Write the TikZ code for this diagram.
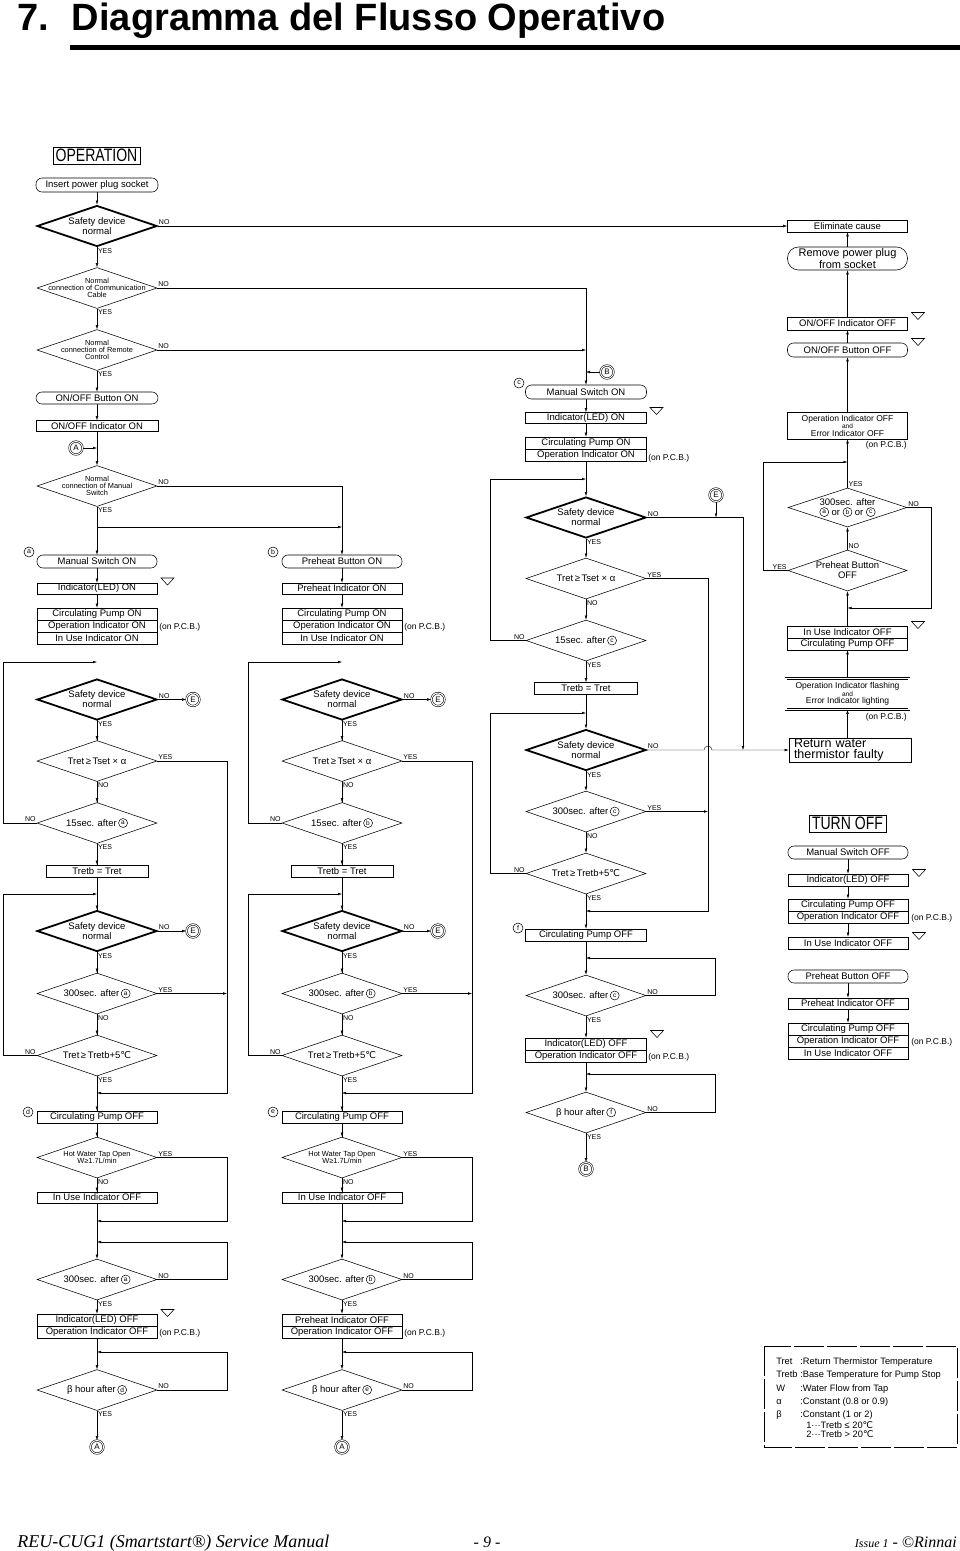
\documentclass[tikz,border=0pt]{standalone}
\usepackage{fontspec}
\usepackage{graphicx}
\setmainfont{Liberation Sans}
\newfontfamily\footserif{Liberation Serif}
\newfontfamily\symsans{DejaVu Sans}
\usetikzlibrary{arrows.meta,shapes.geometric,backgrounds}

\newcommand\boxfont{\fontsize{9.5}{10}\selectfont}
\newcommand\smallfont{\fontsize{7.4}{7}\selectfont}
\newcommand\ynfont{\fontsize{7}{8}\selectfont}
\newcommand\pcbfont{\fontsize{8.5}{9}\selectfont}
\newcommand\legfont{\fontsize{9.3}{10}\selectfont}
\newcommand\degc{{\symsans ℃}}
\newcommand\circled[1]{\tikz[baseline=-3pt]\node[draw,circle,inner sep=0pt,minimum size=9pt,line width=0.5pt,font=\fontsize{6.5}{6.5}\selectfont]{#1};}

\tikzset{
  box/.style={draw,fill=white,rectangle,minimum width=120,minimum height=12,inner sep=0,font=\boxfont},
  termbox/.style={box,rounded corners=6},
  dec/.style={draw,fill=white,diamond,minimum width=120,minimum height=41,inner sep=0},
  thickdec/.style={dec,line width=1.8},
  dtxt/.style={align=center,font=\boxfont,inner sep=0},
  stxt/.style={align=center,font=\smallfont,inner sep=0},
  yn/.style={font=\ynfont,inner sep=0.8},
  ys/.style={label={[yn,anchor=north west]south:YES}},
  ns/.style={label={[yn,anchor=north west]south:NO}},
  ye/.style={label={[yn,anchor=south west]east:YES}},
  ne/.style={label={[yn,anchor=south west]east:NO}},
  nw/.style={label={[yn,anchor=south east]west:NO}},
  yw/.style={label={[yn,anchor=south east]west:YES}},
  yt/.style={label={[yn,anchor=south west]north:YES}},
  nt/.style={label={[yn,anchor=south west]north:NO}},
  safety/.style={thickdec,ys,ne,label={[dtxt]center:{Safety device\\normal}}},
  flow/.style={-{Latex[length=4pt,width=2.6pt]}},
  conn/.style={draw,fill=white,circle,double,double distance=1pt,minimum size=13,inner sep=0,font=\fontsize{8}{8}\selectfont},
  letter/.style={draw,fill=white,circle,minimum size=10,inner sep=0,font=\fontsize{7}{7}\selectfont},
  pcb/.style={anchor=west,inner sep=0,font=\pcbfont},
  bigbox/.style={draw,inner sep=0,minimum height=17,font=\fontsize{18}{18}\selectfont},
  warn/.pic={\draw (-6.5,-3.5) -- (6.5,-3.5) -- (0,3.5) -- cycle;}
}

\begin{document}
\begin{tikzpicture}[x=1pt,y=-1pt,line width=0.55pt]
\useasboundingbox (0,0) rectangle (960,1551);

% heading
\node[anchor=base west,inner sep=0,font=\fontsize{38}{38}\selectfont\bfseries] (title) at (17,30.5) {7.\hspace{23pt}Diagramma del Flusso Operativo};
\fill (70,45) rectangle (960,50);

% OPERATION
\node[bigbox,minimum width=87] (oper) at (96.5,155.5) {\scalebox{0.78}[1]{OPERATION}};
\node[termbox,minimum width=122,minimum height=14] (plug) at (97,185) {Insert power plug socket};
\node[safety] (safe0) at (97,226) {};
\node[dec,ys,ne,label={[stxt]center:{Normal\\connection of Communication\\Cable}}] (comm) at (97,288) {};
\node[dec,ys,ne,label={[stxt]center:{Normal\\connection of Remote\\Control}}] (remo) at (97,350) {};
\node[termbox,minimum width=122] (onbtn) at (97,398) {ON/OFF Button ON};
\node[box,minimum width=122,minimum height=11] (onind) at (97,426) {ON/OFF Indicator ON};
\node[conn] (conA0) at (76,448) {A};
\node[dec,ys,ne,label={[stxt]center:{Normal\\connection of Manual\\Switch}}] (mswc) at (97,486) {};
\coordinate (split) at (97,527);

% a: manual switch
\node[letter] (la) at (29,552) {a};
\node[termbox,minimum height=13] (msa) at (97,561.5) {Manual Switch ON};
\pic at (167.5,581.5) {warn};
\node[box,minimum height=11] (leda) at (97,588.5) {Indicator(LED) ON};
\node[box] (pma) at (97,614) {Circulating Pump ON};
\node[box] (opa) at (97,626) {Operation Indicator ON};
\node[box] (iua) at (97,638) {In Use Indicator ON};
\node[pcb] (pcba) at (159,627) {(on P.C.B.)};

% b: preheat button
\node[letter] (lb) at (273,552) {b};
\node[termbox,minimum height=13] (phb) at (342,561.5) {Preheat Button ON};
\node[box,minimum height=11] (phib) at (342,588.5) {Preheat Indicator ON};
\node[box] (pmb) at (342,614) {Circulating Pump ON};
\node[box] (opb) at (342,626) {Operation Indicator ON};
\node[box] (iub) at (342,638) {In Use Indicator ON};
\node[pcb] (pcbb) at (404,627) {(on P.C.B.)};

\begin{scope}[on background layer]
\draw[flow] (plug.south) -- (safe0.north);
\draw[flow] (safe0.south) -- (comm.north);
\draw[flow] (comm.south) -- (remo.north);
\draw[flow] (remo.south) -- (onbtn.north);
\draw[flow] (onbtn.south) -- (onind.north);
\draw[flow] (onind.south) -- (mswc.north);
\draw[flow] (conA0.east) -- (conA0 -| mswc.north);
\draw[flow] (mswc.south) -- (msa.north);
\draw[flow] (split) -- (split -| phb.north);
\draw[flow] (mswc.east) -| (phb.north);
\draw[flow] (msa.south) -- (leda.north);
\draw[flow] (leda.south) -- (pma.north);
\draw[flow] (phb.south) -- (phib.north);
\draw[flow] (phib.south) -- (pmb.north);
\end{scope}

% columns a and b
\foreach \dx/\k/\m/\ledtxt in {0/a/d/Indicator(LED) OFF,245/b/e/Preheat Indicator OFF}{
  \coordinate (in1\k) at (3+\dx,662);
  \node[safety] (sf1\k) at (97+\dx,699.5) {};
  \node[conn] (e1\k) at (193+\dx,699.5) {E};
  \node[dec,ns,ye,label={[dtxt]center:{Tret\,≥\,Tset × α}}] (ts\k) at (97+\dx,761) {};
  \node[dec,ys,nw,label={[dtxt]center:{15sec. after\,\circled{\k}}}] (fs\k) at (97+\dx,823) {};
  \node[box,minimum width=102] (tb\k) at (97+\dx,871) {Tretb = Tret};
  \coordinate (in2\k) at (3+\dx,894);
  \node[safety] (sf2\k) at (97+\dx,931) {};
  \node[conn] (e2\k) at (193+\dx,931) {E};
  \node[dec,ns,ye,label={[dtxt]center:{300sec. after\,\circled{\k}}}] (tt\k) at (97+\dx,993.5) {};
  \node[dec,ys,nw,label={[dtxt]center:{Tret\,≥\,Tretb+5\degc}}] (tr\k) at (97+\dx,1055.5) {};
  \coordinate (j1\k) at (227+\dx,1093);
  \node[letter] (l\m) at (28+\dx,1112) {\m};
  \node[box] (cp\k) at (97+\dx,1117) {Circulating Pump OFF};
  \node[dec,ns,ye,label={[stxt]center:{Hot Water Tap Open\\W≥1.7L/min}}] (hw\k) at (97+\dx,1157.5) {};
  \node[box,minimum height=11] (iu\k) at (97+\dx,1197.5) {In Use Indicator OFF};
  \coordinate (j2\k) at (227+\dx,1221);
  \coordinate (in3\k) at (227+\dx,1242);
  \node[dec,ys,ne,label={[dtxt]center:{300sec. after\,\circled{\k}}}] (to\k) at (97+\dx,1279.5) {};
  \node[box] (io\k) at (97+\dx,1320) {\ledtxt};
  \node[box] (oo\k) at (97+\dx,1332) {Operation Indicator OFF};
  \node[pcb] (pc\k) at (159+\dx,1333) {(on P.C.B.)};
  \coordinate (in4\k) at (227+\dx,1352);
  \node[dec,ys,ne,label={[dtxt]center:{β hour after\,\circled{\m}}}] (bh\k) at (97+\dx,1390) {};
  \node[conn] (a\k) at (97+\dx,1447) {A};
  \begin{scope}[on background layer]
  \draw[flow] (fs\k.west) -| (in1\k) -- (in1\k -| sf1\k.north);
  \draw[flow] (sf1\k.east) -- (e1\k.west);
  \draw[flow] (sf1\k.south) -- (ts\k.north);
  \draw[flow] (ts\k.south) -- (fs\k.north);
  \draw[flow] (fs\k.south) -- (tb\k.north);
  \draw[flow] (tb\k.south) -- (sf2\k.north);
  \draw[flow] (tr\k.west) -| (in2\k) -- (in2\k -| sf2\k.north);
  \draw[flow] (sf2\k.east) -- (e2\k.west);
  \draw[flow] (sf2\k.south) -- (tt\k.north);
  \draw[flow] (tt\k.south) -- (tr\k.north);
  \draw[flow] (ts\k.east) -| (j1\k) -- (j1\k -| cp\k.north);
  \draw[flow] (tt\k.east) -- (tt\k.east -| j1\k);
  \draw[flow] (tr\k.south) -- (cp\k.north);
  \draw[flow] (cp\k.south) -- (hw\k.north);
  \draw[flow] (hw\k.south) -- (iu\k.north);
  \draw[flow] (hw\k.east) -| (j2\k) -- (j2\k -| to\k.north);
  \draw[flow] (iu\k.south) -- (to\k.north);
  \draw[flow] (to\k.east) -| (in3\k) -- (in3\k -| to\k.north);
  \draw[flow] (to\k.south) -- (io\k.north);
  \draw[flow] (oo\k.south) -- (bh\k.north);
  \draw[flow] (bh\k.east) -| (in4\k) -- (in4\k -| bh\k.north);
  \draw[flow] (bh\k.south) -- (a\k.north);
  \end{scope}
}
\pic at (167.5,1313) {warn};
\begin{scope}[on background layer]
\draw[flow] (iua.south) -- (sf1a.north);
\draw[flow] (iub.south) -- (sf1b.north);
\end{scope}

% c: manual switch (remote)
\node[letter] (lc) at (519,383) {c};
\node[conn] (conB0) at (607,372) {B};
\node[termbox,minimum width=121,minimum height=14] (msc) at (586,392) {Manual Switch ON};
\pic at (656.5,411) {warn};
\node[box,minimum width=121,minimum height=11] (ledc) at (586,418) {Indicator(LED) ON};
\node[box,minimum width=121] (pmc) at (586,443) {Circulating Pump ON};
\node[box,minimum width=121] (opc) at (586,455) {Operation Indicator ON};
\node[pcb] (pcbc) at (648,458) {(on P.C.B.)};
\coordinate (inc1) at (490,479);
\node[safety] (sfc1) at (586,517.5) {};
\node[conn] (ec) at (716,495) {E};
\node[dec,ns,ye,label={[dtxt]center:{Tret\,≥\,Tset × α}}] (tsc) at (586,578.5) {};
\node[dec,ys,nw,label={[dtxt]center:{15sec. after\,\circled{c}}}] (fsc) at (586,640.5) {};
\node[box,minimum width=103] (tbc) at (586,688.5) {Tretb = Tret};
\coordinate (inc2) at (490,713);
\node[safety] (sfc2) at (586,750) {};
\node[dec,ns,ye,label={[dtxt]center:{300sec. after\,\circled{c}}}] (ttc) at (586,811.5) {};
\node[dec,ys,nw,label={[dtxt]center:{Tret\,≥\,Tretb+5\degc}}] (trc) at (586,873.5) {};
\coordinate (jc) at (708,911);
\node[letter] (lf) at (518,928) {f};
\node[box,minimum width=121] (cpc) at (586,935) {Circulating Pump OFF};
\coordinate (inc3) at (715,958);
\node[dec,ys,ne,label={[dtxt]center:{300sec. after\,\circled{c}}}] (toc) at (586,995.5) {};
\pic at (657,1034) {warn};
\node[box,minimum width=121] (ioc) at (586,1044) {Indicator(LED) OFF};
\node[box,minimum width=121] (ooc) at (586,1056) {Operation Indicator OFF};
\node[pcb] (pcbc2) at (648,1057) {(on P.C.B.)};
\coordinate (inc4) at (715,1074);
\node[dec,ys,ne,label={[dtxt]center:{β hour after\,\circled{f}}}] (bhc) at (586,1112.5) {};
\node[conn] (conB1) at (586,1169) {B};

\begin{scope}[on background layer]
\draw[flow] (comm.east) -| (msc.north);
\draw[flow] (remo.east) -- (remo.east -| msc.north);
\draw[flow] (conB0.west) -- (conB0 -| msc.north);
\draw[flow] (msc.south) -- (ledc.north);
\draw[flow] (ledc.south) -- (pmc.north);
\draw[flow] (opc.south) -- (sfc1.north);
\draw[flow] (fsc.west) -| (inc1) -- (inc1 -| sfc1.north);
\draw[flow] (sfc1.south) -- (tsc.north);
\draw[flow] (tsc.south) -- (fsc.north);
\draw[flow] (fsc.south) -- (tbc.north);
\draw[flow] (tbc.south) -- (sfc2.north);
\draw[flow] (trc.west) -| (inc2) -- (inc2 -| sfc2.north);
\draw[flow] (sfc2.south) -- (ttc.north);
\draw[flow] (ttc.south) -- (trc.north);
\draw[flow] (tsc.east) -| (jc) -- (jc -| cpc.north);
\draw[flow] (ttc.east) -- (ttc.east -| jc);
\draw[flow] (trc.south) -- (cpc.north);
\draw[flow] (cpc.south) -- (toc.north);
\draw[flow] (toc.east) -| (inc3) -- (inc3 -| toc.north);
\draw[flow] (toc.south) -- (ioc.north);
\draw[flow] (ooc.south) -- (bhc.north);
\draw[flow] (bhc.east) -| (inc4) -- (inc4 -| bhc.north);
\draw[flow] (bhc.south) -- (conB1.north);
\end{scope}

% error column
\node[box,minimum width=120] (elim) at (847.5,226) {Eliminate cause};
\node[termbox,minimum width=120,minimum height=23,rounded corners=11,align=center,font=\fontsize{11}{10}\selectfont] (unplug) at (847.5,258.5) {Remove power plug\\from socket};
\node[box,minimum width=120,minimum height=13] (offind) at (847.5,323.5) {ON/OFF Indicator OFF};
\pic at (918,316) {warn};
\node[termbox,minimum width=120,minimum height=14] (offbtn) at (847.5,350) {ON/OFF Button OFF};
\pic at (918,342) {warn};
\node[box,minimum width=120,minimum height=27,align=center,font=\fontsize{8.5}{7.5}\selectfont] (operr) at (847.5,425.5) {Operation Indicator OFF\\{\fontsize{6.5}{6.5}\selectfont and}\\Error Indicator OFF};
\node[pcb,anchor=east] (pcbd) at (907,445) {(on P.C.B.)};
\coordinate (jx) at (763,462);
\node[dec,minimum width=119,minimum height=39,yt,ne,label={[dtxt]center:{300sec. after\\\circled{a} or \circled{b} or \circled{c}}}] (tabc) at (847.5,507.5) {};
\coordinate (jy) at (931,608);
\node[dec,minimum width=119,nt,yw,label={[dtxt]center:{Preheat Button\\OFF}}] (phoff) at (847.5,570.5) {};
\pic at (918,625) {warn};
\node[box] (iuoff) at (847.5,632) {In Use Indicator OFF};
\node[box] (cpoff) at (847.5,644) {Circulating Pump OFF};
\node[box,double,double distance=1.2pt,minimum width=123,minimum height=31,align=center,font=\fontsize{8.5}{7.5}\selectfont] (flash) at (847.5,694) {Operation Indicator flashing\\{\fontsize{6.5}{6.5}\selectfont and}\\Error Indicator lighting};
\node[pcb,anchor=east] (pcbd2) at (907,717) {(on P.C.B.)};
\node[box,minimum width=122,minimum height=24,align=left,text width=112,font=\fontsize{12.5}{11}\selectfont] (rwf) at (850,750) {Return water\\thermistor faulty};
\coordinate (jr) at (743,750);

\begin{scope}[on background layer]
\draw[flow] (safe0.east) -- (elim.west);
\draw[flow] (unplug.north) -- (elim.south);
\draw[flow] (offind.north) -- (unplug.south);
\draw[flow] (offbtn.north) -- (offind.south);
\draw[flow] (operr.north) -- (offbtn.south);
\draw[flow] (tabc.north) -- (operr.south);
\draw[flow] (phoff.west) -| (jx) -- (jx -| operr.south);
\draw[flow] (phoff.north) -- (tabc.south);
\draw[flow] (tabc.east) -| (jy) -- (jy -| phoff.south);
\draw[flow] (iuoff.north) -- (phoff.south);
\draw[flow] (flash.north) -- (cpoff.south);
\draw[flow] (rwf.north -| flash.south) -- (flash.south);
\draw[flow] (ec.south) -- (ec |- sfc1.east);
\draw[flow] (sfc1.east) -| (jr);
\draw[flow] (sfc2.east) -- ([xshift=-4pt]jc |- sfc2.east) arc[start angle=180,end angle=0,radius=4pt] -- (rwf.west);
\end{scope}

% TURN OFF
\node[bigbox,minimum width=77] (toff) at (847.5,823.5) {\scalebox{0.78}[1]{TURN OFF}};
\node[termbox,minimum height=13] (msoff) at (848,852.5) {Manual Switch OFF};
\pic at (919,873) {warn};
\node[box] (ledoff) at (848,880) {Indicator(LED) OFF};
\node[box] (cpo3) at (848,905) {Circulating Pump OFF};
\node[box] (opo3) at (848,917) {Operation Indicator OFF};
\node[pcb] (pcbe) at (911,918) {(on P.C.B.)};
\pic at (919,936) {warn};
\node[box] (iuo3) at (848,943) {In Use Indicator OFF};
\node[termbox,minimum height=13] (phbo) at (848,976.5) {Preheat Button OFF};
\node[box,minimum height=11] (phio) at (848,1003.5) {Preheat Indicator OFF};
\node[box] (cpo4) at (848,1029) {Circulating Pump OFF};
\node[box] (opo4) at (848,1041) {Operation Indicator OFF};
\node[box] (iuo4) at (848,1053) {In Use Indicator OFF};
\node[pcb] (pcbe2) at (911,1042) {(on P.C.B.)};
\begin{scope}[on background layer]
\draw[flow] (msoff.south) -- (ledoff.north);
\draw[flow] (ledoff.south) -- (cpo3.north);
\draw[flow] (opo3.south) -- (iuo3.north);
\draw[flow] (phbo.south) -- (phio.north);
\draw[flow] (phio.south) -- (cpo4.north);
\end{scope}

% legend
\draw[dash pattern=on 30pt off 3pt] (764,1346) rectangle (957,1447);
\foreach \yy/\kk/\dd [count=\i] in {1364/Tret/Return Thermistor Temperature,1377/Tretb/Base Temperature for Pump Stop,1391/W/Water Flow from Tap,1404/α/Constant (0.8 or 0.9),1417/β/Constant (1 or 2)}{
  \node[anchor=base west,inner sep=0,font=\legfont] (key\i) at (776,\yy) {\kk};
  \node[anchor=base west,inner sep=0,font=\legfont] (def\i) at (800,\yy) {:\dd};
}
\node[anchor=base west,inner sep=0,font=\legfont] (sub1) at (806,1428) {1···Tretb ≤ 20\degc};
\node[anchor=base west,inner sep=0,font=\legfont] (sub2) at (806,1437) {2···Tretb > 20\degc};

% footer
\node[anchor=base west,inner sep=0,font=\footserif\itshape\fontsize{18}{18}\selectfont] (foot1) at (17,1547) {REU-CUG1 (Smartstart®) Service Manual};
\node[anchor=base,inner sep=0,font=\footserif\itshape\fontsize{16}{16}\selectfont] (foot2) at (487,1547) {- 9 -};
\node[anchor=base east,inner sep=0,font=\footserif\itshape\fontsize{16}{16}\selectfont] (foot3) at (957,1547) {{\fontsize{12}{12}\selectfont Issue 1} - ©Rinnai};
\end{tikzpicture}
\end{document}
